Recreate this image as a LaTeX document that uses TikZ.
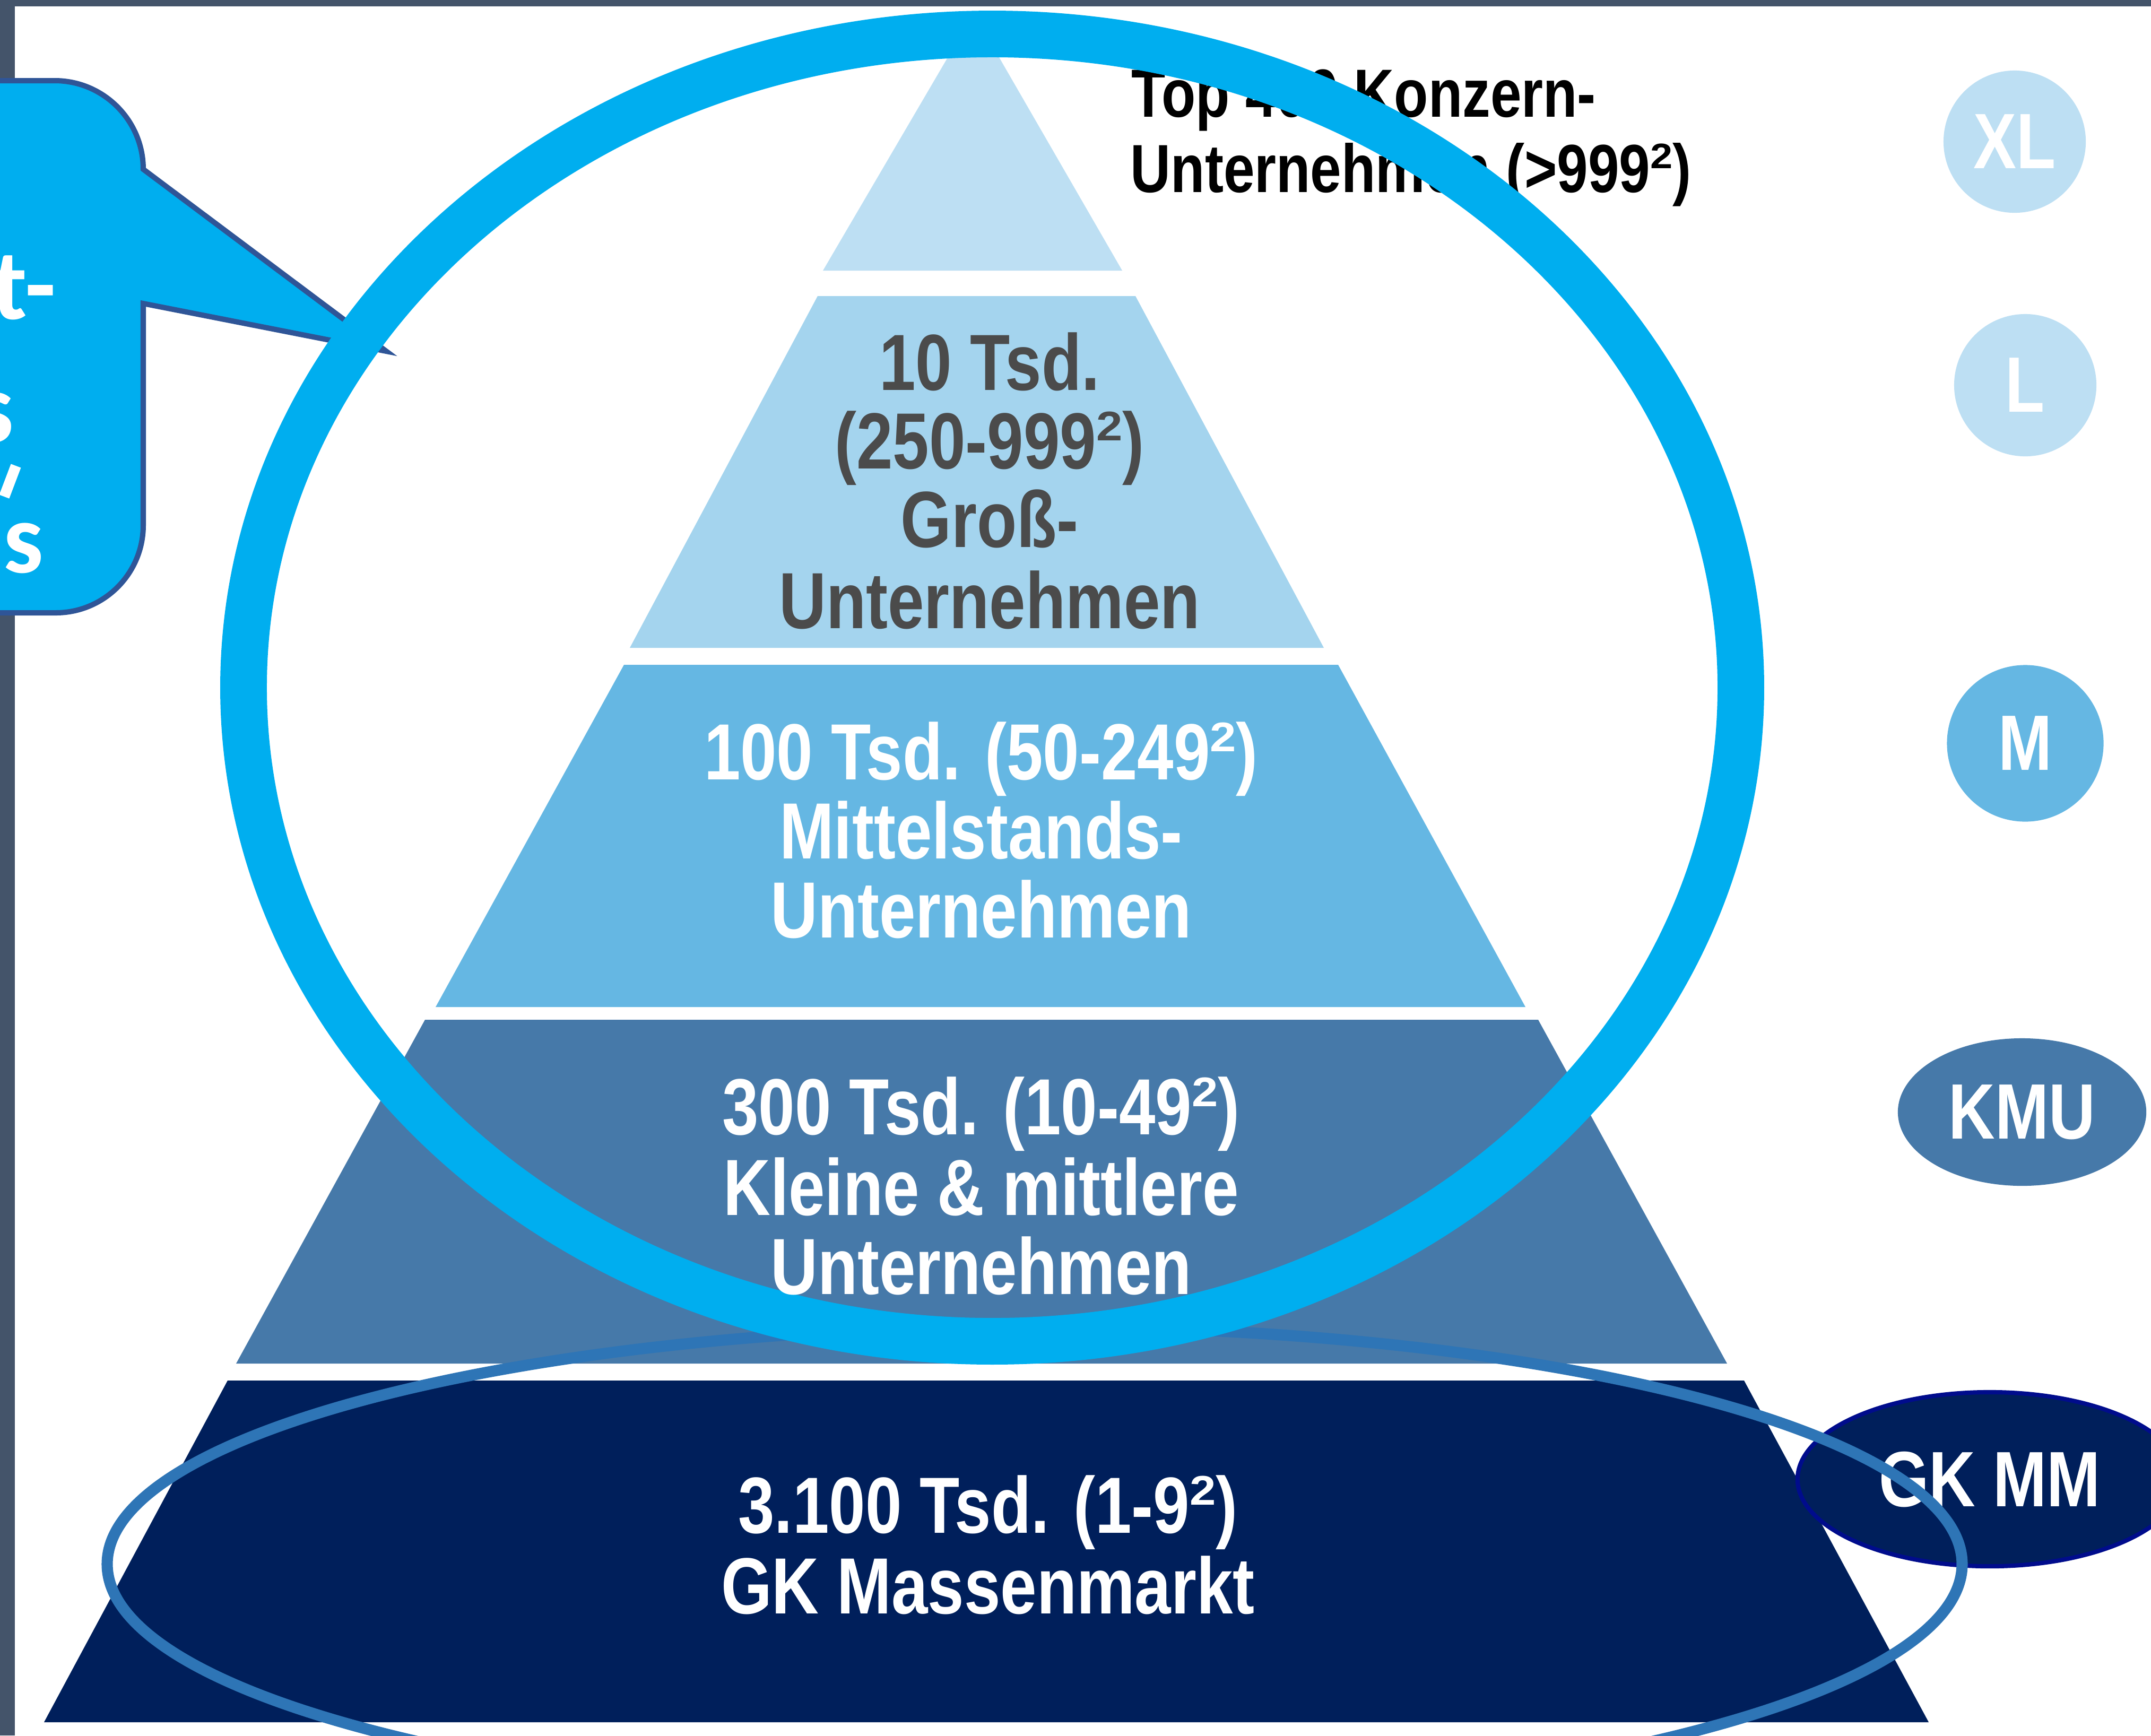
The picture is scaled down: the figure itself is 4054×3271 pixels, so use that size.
\documentclass[tikz,border=0pt]{standalone}
\usepackage{fontspec}
\usetikzlibrary{shapes.geometric}
\newfontfamily\narrowsans[FakeStretch=0.82]{Liberation Sans}
\newfontfamily\calfont{Carlito}
\newcommand\sqtwo{\raisebox{0.35em}{\scalebox{0.72}[0.52]{2}}}
\definecolor{lvlA}{HTML}{BDDFF3}
\definecolor{lvlB}{HTML}{A4D4EE}
\definecolor{lvlC}{HTML}{65B7E3}
\definecolor{lvlD}{HTML}{4679A9}
\definecolor{lvlE}{HTML}{001F5B}
\definecolor{ringcol}{HTML}{00AEEF}
\definecolor{thincol}{HTML}{2E75B6}
\definecolor{cbord}{HTML}{2F5597}
\definecolor{txtgray}{HTML}{4B4B4B}
\definecolor{barcol}{HTML}{44546A}
\definecolor{gkbord}{HTML}{000C8C}
\tikzset{
  pyrtext/.style={anchor=base, inner sep=0pt, font={\narrowsans\bfseries\fontsize{42.7pt}{42.7pt}\selectfont}},
  toptext/.style={anchor=base west, inner sep=0pt, text=black, font={\narrowsans\bfseries\fontsize{36.5pt}{36.5pt}\selectfont}},
  ctext/.style={anchor=base east, inner sep=0pt, text=white, font={\calfont\bfseries\fontsize{54pt}{54pt}\selectfont}},
  badge/.style={inner sep=0pt, text=white, font={\narrowsans\bfseries\fontsize{42.1pt}{42.1pt}\selectfont}},
  callout/.style={fill=ringcol, draw=cbord, line width=2.85pt, line join=miter},
  bigring/.style={draw=ringcol, line width=25pt},
  thinring/.style={draw=thincol, line width=6pt}
}
\begin{document}
\begin{tikzpicture}[x=0.01cm,y=-0.01cm]
\useasboundingbox (0,0) rectangle (4054,3271);
\fill[white] (0,0) rectangle (4054,3271);
% frame bars
\fill[barcol] (0,0) rectangle (4054,12);
\fill[barcol] (0,0) rectangle (28,3271);
% pyramid levels
\fill[lvlA] (1835,25) -- (2115,510) -- (1551,510) -- cycle;
\fill[lvlB] (1541,558) -- (2140,558) -- (2495,1221) -- (1187,1221) -- cycle;
\fill[lvlC] (1176,1253) -- (2522,1253) -- (2875,1898) -- (821,1898) -- cycle;
\fill[lvlD] (801,1922) -- (2899,1922) -- (3255,2570) -- (445,2570) -- cycle;
\fill[lvlE] (429,2602) -- (3287,2602) -- (3635,3246) -- (83,3246) -- cycle;
% callout
\draw[callout] (-300,152) -- (103,152) .. controls (195,152) and (270,227) .. (270,319)
  -- (728,662) -- (270,572) -- (270,990) .. controls (270,1081) and (196,1155) .. (105,1155)
  -- (-300,1155) -- cycle;
\node[ctext] (ca) at (106,601) {t-};
\node[ctext] (cb) at (27,833) {s};
\node[ctext] (cc) at (83,1079) {s};
\draw[white, line width=5.7pt] (30,878) -- (8,936);
% top label
\node[toptext] (topa) at (2132,220) {Top 400 Konzern-};
\node[toptext] (topb) at (2130,362) {Unternehmen (>999\sqtwo)};
% badges
\node[badge, circle, fill=lvlA, minimum size=2.68cm] (xl) at (3797,267) {XL};
\node[badge, circle, fill=lvlA, minimum size=2.68cm] (l) at (3817,726) {L};
\node[badge, circle, fill=lvlC, minimum size=2.95cm] (m) at (3817,1401) {M};
\node[badge, ellipse, fill=lvlD, minimum width=4.68cm, minimum height=2.78cm] (kmu) at (3811,2096) {KMU};
\node[badge, ellipse, fill=lvlE, draw=gkbord, line width=2.3pt, minimum width=7.24cm, minimum height=3.28cm] (gkmm) at (3750,2788) {GK MM};
% rings
\draw[thinring] (1950,2948) ellipse [x radius=1748, y radius=448];
\draw[bigring] (1870,1296) ellipse [x radius=1411, y radius=1232];
% pyramid texts
\node[pyrtext, text=txtgray] (b1) at (1865,735) {10 Tsd.};
\node[pyrtext, text=txtgray] (b2) at (1865,883) {(250-999\sqtwo)};
\node[pyrtext, text=txtgray] (b3) at (1865,1031) {Groß-};
\node[pyrtext, text=txtgray] (b4) at (1865,1184) {Unternehmen};
\node[pyrtext, text=white] (c1) at (1849,1469) {100 Tsd. (50-249\sqtwo)};
\node[pyrtext, text=white] (c2) at (1849,1618) {Mittelstands-};
\node[pyrtext, text=white] (c3) at (1849,1767) {Unternehmen};
\node[pyrtext, text=white] (d1) at (1849,2138) {300 Tsd. (10-49\sqtwo)};
\node[pyrtext, text=white] (d2) at (1849,2290) {Kleine \& mittlere};
\node[pyrtext, text=white] (d3) at (1849,2439) {Unternehmen};
\node[pyrtext, text=white] (e1) at (1862,2889) {3.100 Tsd. (1-9\sqtwo)};
\node[pyrtext, text=white] (e2) at (1862,3041) {GK Massenmarkt};
\end{tikzpicture}
\end{document}
